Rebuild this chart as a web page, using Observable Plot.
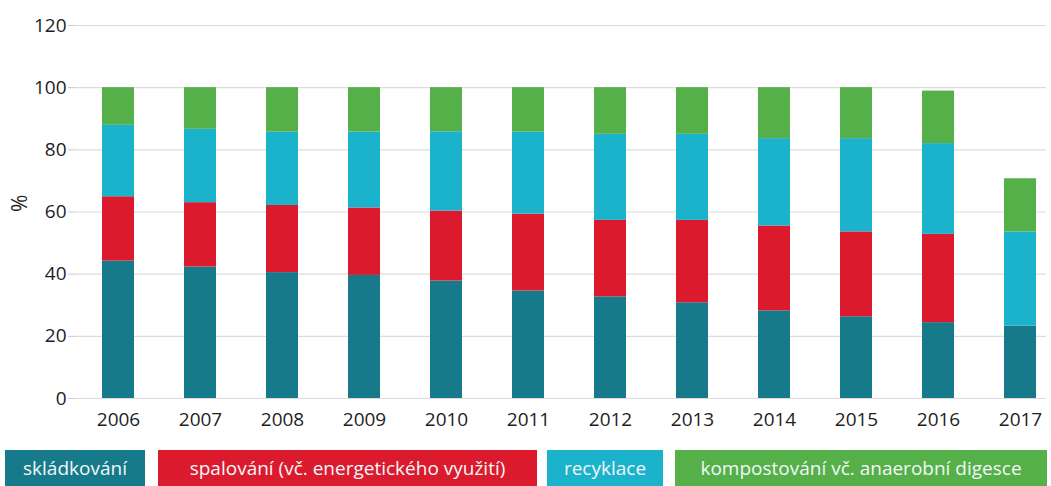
<!DOCTYPE html>
<html>
<head>
<meta charset="utf-8">
<script src="https://cdn.jsdelivr.net/npm/d3@7"></script>
<script src="https://cdn.jsdelivr.net/npm/@observablehq/plot@0.6"></script>
<style>
  html, body { margin: 0; padding: 0; background: #fff; }
  body { width: 1051px; height: 486px; overflow: hidden; font-family: "Open Sans", sans-serif; }
  #chart svg { display: block; }
  #legend { display: flex; margin-top: 10px; height: 36px; padding-left: 5px; }
  #legend div { color: #f2f7f7; font-size: 19px; line-height: 36px; height: 36px; text-align: center; white-space: nowrap; }
</style>
</head>
<body>
<div id="chart"></div>
<div id="legend"></div>
<script>
const years = ["2006","2007","2008","2009","2010","2011","2012","2013","2014","2015","2016","2017"];
const categories = ["skládkování", "spalování (vč. energetického využití)", "recyklace", "kompostování vč. anaerobní digesce"];
const colors = ["#177a8b", "#dc1a2e", "#1bb2cc", "#55b04a"];
const skladkovani = [44.2, 42.3, 40.5, 39.6, 37.8, 34.6, 32.7, 30.8, 28.2, 26.3, 24.4, 23.3];
const spalovani   = [20.7, 20.7, 21.6, 21.7, 22.5, 24.7, 24.6, 26.5, 27.3, 27.3, 28.4, 0];
const recyklace   = [23.0, 23.6, 23.6, 24.4, 25.5, 26.4, 27.7, 27.7, 28.1, 30.0, 29.2, 30.3];
const kompost     = [12.1, 13.4, 14.3, 14.3, 14.2, 14.3, 15.0, 15.0, 16.4, 16.4, 16.9, 17.1];
const yTicks = [0, 20, 40, 60, 80, 100, 120];

const series = [skladkovani, spalovani, recyklace, kompost];
const data = [];
series.forEach((vals, ci) => vals.forEach((v, i) => data.push({year: years[i], cat: categories[ci], value: v})));

const chart = Plot.plot({
  width: 1051,
  height: 440,
  marginLeft: 75,
  marginRight: 5,
  marginTop: 25,
  marginBottom: 42,
  style: { fontFamily: "Open Sans, sans-serif", fontSize: "19px", color: "#222" },
  x: { domain: years, paddingInner: 0.61, paddingOuter: 0.21, align: 0.72, label: null },
  y: { domain: [0, 120], label: null },
  color: { domain: categories, range: colors },
  marks: [
    Plot.gridY(yTicks, { stroke: "#dcdcdc", strokeOpacity: 1, strokeWidth: 1.2 }),
    Plot.ruleX([0], { frameAnchor: "left", stroke: "#cfcfcf" }),
    Plot.axisY(yTicks, { tickSize: 7, tickPadding: 2, stroke: "#c8c8c8", fill: "#1e1e1e", fontSize: 19 }),
    Plot.text(["%"], { frameAnchor: "left", dx: -55, rotate: -90, fontSize: 21, fill: "#1e1e1e" }),
    Plot.axisX({ tickSize: 0, tickPadding: 14, fill: "#1e1e1e", fontSize: 19 }),
    Plot.barY(data, { x: "year", y: "value", fill: "cat", order: null })
  ]
});
document.getElementById("chart").appendChild(chart);

const widths = [140, 379, 116, 372];
const gaps = [0, 13, 10, 12];
const legend = document.getElementById("legend");
categories.forEach((c, i) => {
  const d = document.createElement("div");
  d.textContent = c;
  d.style.background = colors[i];
  d.style.width = widths[i] + "px";
  d.style.marginLeft = gaps[i] + "px";
  legend.appendChild(d);
});
</script>
</body>
</html>
